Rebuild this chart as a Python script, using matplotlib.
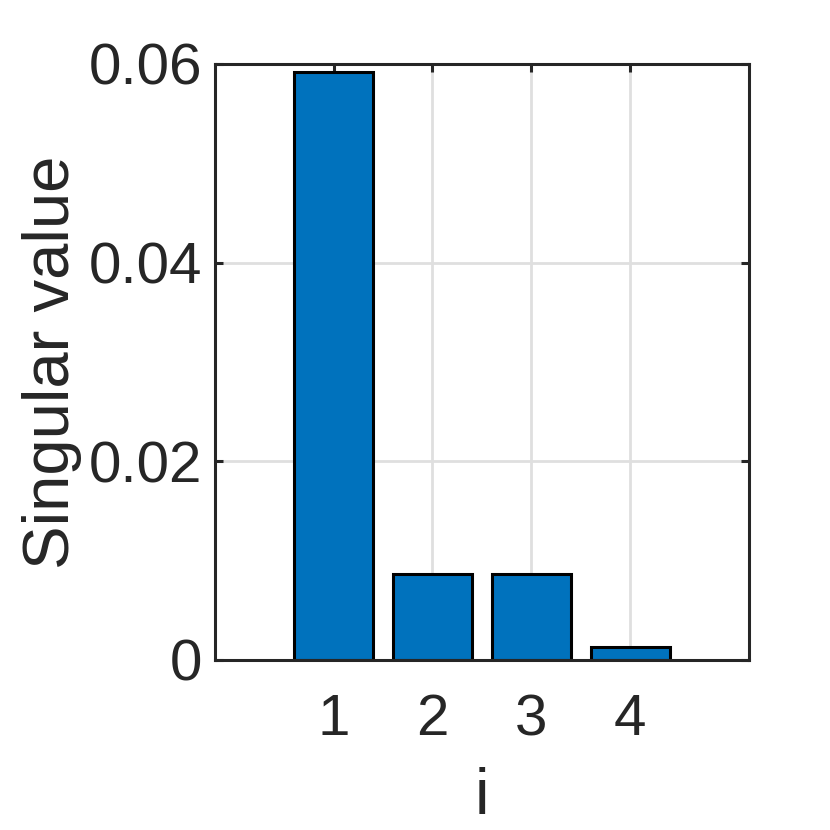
import numpy as np
import matplotlib
matplotlib.use("Agg")
import matplotlib.pyplot as plt

# singular values
idx = [1, 2, 3, 4]
sing_vals = [0.0592, 0.00866, 0.00866, 0.00125]
ytick_vals = [0, 0.02, 0.04, 0.06]
ytick_labels = ["0", "0.02", "0.04", "0.06"]

plt.rcParams['font.family'] = ['Liberation Sans', 'DejaVu Sans']
dark = "#262626"

fig = plt.figure(figsize=(8.3, 8.3), dpi=100)
ax = fig.add_axes([0.259, 0.205, 0.643, 0.718])

ax.bar(idx, sing_vals, width=0.8, color="#0072BD", edgecolor="black",
       linewidth=2.2, zorder=3)

ax.set_xlim(-0.2, 5.2)
ax.set_ylim(0, 0.06)
ax.set_xticks(idx)
ax.set_yticks(ytick_vals)
ax.set_yticklabels(ytick_labels)

ax.grid(True, color="#dfdfdf", linewidth=2.0, zorder=0)
ax.set_axisbelow(True)

for s in ax.spines.values():
    s.set_color(dark)
    s.set_linewidth(2.2)
    s.set_zorder(4)

ax.tick_params(direction="in", length=6, width=2.2, color=dark,
               labelsize=42, labelcolor=dark, top=True, right=True)
ax.tick_params(axis="y", pad=9)
ax.tick_params(axis="x", pad=24)
ax.set_xlabel("i", fontsize=47, color=dark, labelpad=14)
ax.set_ylabel("Singular value", fontsize=47, color=dark, labelpad=5)

fig.savefig("out.png", dpi=100)
